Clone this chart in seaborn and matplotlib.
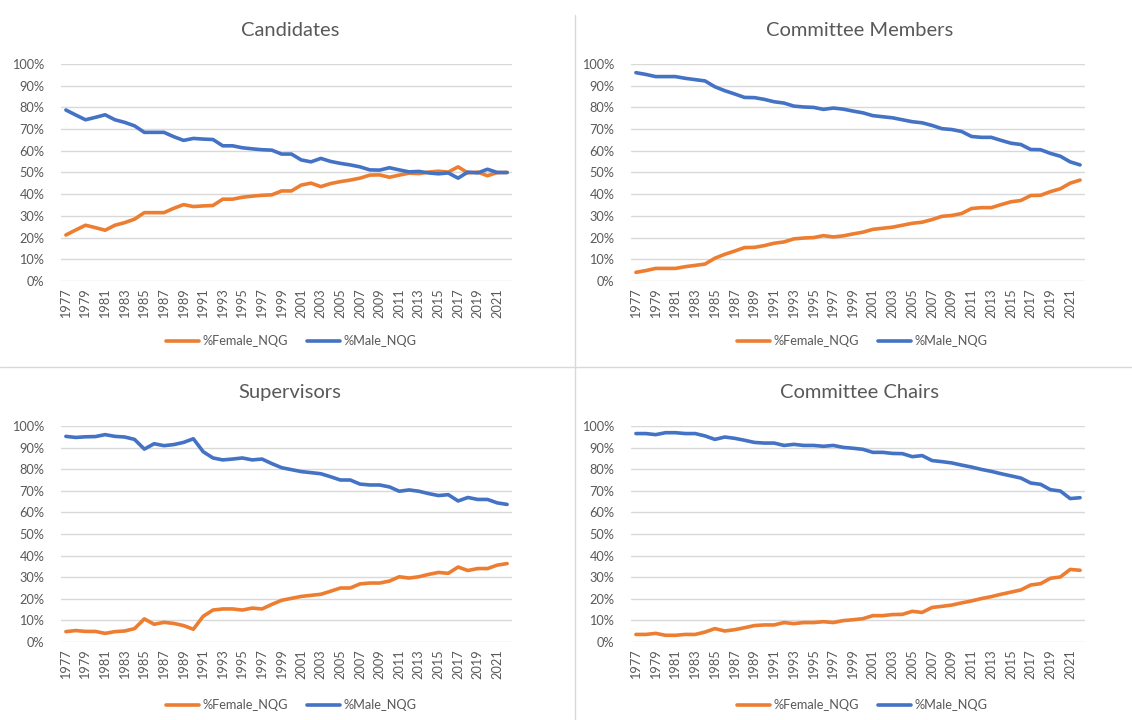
import matplotlib
matplotlib.use("Agg")
import matplotlib.pyplot as plt
from matplotlib.lines import Line2D
from matplotlib.ticker import PercentFormatter
import pandas as pd
import seaborn as sns

# ---------------- data ----------------
years = list(range(1977, 2023))
series_names = ["%Female_NQG", "%Male_NQG"]

candidates_female = [21.2, 23.5, 25.7, 24.6, 23.4, 25.7, 26.9, 28.5, 31.5, 31.5,
                     31.5, 33.5, 35.2, 34.3, 34.6, 34.8, 37.7, 37.7, 38.6, 39.1,
                     39.5, 39.7, 41.5, 41.5, 44.2, 45.1, 43.5, 44.9, 45.8, 46.5,
                     47.4, 48.8, 48.9, 47.8, 48.8, 49.7, 49.5, 50.2, 50.6, 50.2,
                     52.6, 49.8, 50.2, 48.5, 50.0, 50.0]
candidates_male = [78.8, 76.5, 74.3, 75.4, 76.6, 74.3, 73.1, 71.5, 68.5, 68.5,
                   68.5, 66.5, 64.8, 65.7, 65.4, 65.2, 62.3, 62.3, 61.4, 60.9,
                   60.5, 60.3, 58.5, 58.5, 55.8, 54.9, 56.5, 55.1, 54.2, 53.5,
                   52.6, 51.2, 51.1, 52.2, 51.2, 50.3, 50.5, 49.8, 49.4, 49.8,
                   47.4, 50.2, 49.8, 51.5, 50.0, 50.0]

members_female = [4.0, 4.8, 5.8, 5.8, 5.8, 6.6, 7.2, 7.8, 10.5, 12.3,
                  13.8, 15.4, 15.5, 16.3, 17.4, 18.0, 19.4, 19.8, 20.0, 20.9,
                  20.3, 20.8, 21.7, 22.5, 23.8, 24.3, 24.8, 25.7, 26.6, 27.1,
                  28.3, 29.8, 30.2, 31.1, 33.4, 33.8, 33.8, 35.2, 36.5, 37.1,
                  39.4, 39.5, 41.2, 42.5, 45.1, 46.5]
members_male = [96.0, 95.2, 94.2, 94.2, 94.2, 93.4, 92.8, 92.2, 89.5, 87.7,
                86.2, 84.6, 84.5, 83.7, 82.6, 82.0, 80.6, 80.2, 80.0, 79.1,
                79.7, 79.2, 78.3, 77.5, 76.2, 75.7, 75.2, 74.3, 73.4, 72.9,
                71.7, 70.2, 69.8, 68.9, 66.6, 66.2, 66.2, 64.8, 63.5, 62.9,
                60.6, 60.5, 58.8, 57.5, 54.9, 53.5]

supervisors_female = [4.8, 5.3, 4.9, 4.9, 4.0, 4.8, 5.1, 6.2, 10.7, 8.2,
                      9.1, 8.6, 7.6, 5.9, 11.9, 14.8, 15.3, 15.3, 14.8, 15.7,
                      15.3, 17.4, 19.3, 20.2, 21.1, 21.6, 22.1, 23.5, 25.0, 25.0,
                      26.9, 27.3, 27.3, 28.2, 30.2, 29.6, 30.2, 31.3, 32.2, 31.8,
                      34.7, 33.1, 34.0, 34.0, 35.6, 36.3]
supervisors_male = [95.2, 94.7, 95.0, 95.1, 96.0, 95.2, 94.9, 93.8, 89.3, 91.8,
                    90.9, 91.4, 92.4, 94.1, 88.1, 85.2, 84.3, 84.7, 85.2, 84.3,
                    84.7, 82.6, 80.7, 79.8, 78.9, 78.4, 77.9, 76.5, 75.0, 75.0,
                    73.1, 72.7, 72.7, 71.8, 69.8, 70.4, 69.8, 68.7, 67.8, 68.2,
                    65.3, 66.9, 66.0, 66.0, 64.4, 63.7]

chairs_female = [3.5, 3.5, 4.0, 3.1, 3.1, 3.5, 3.5, 4.6, 6.2, 5.1,
                 5.7, 6.6, 7.6, 7.9, 7.9, 9.0, 8.5, 9.0, 9.0, 9.4,
                 9.0, 9.9, 10.3, 10.8, 12.2, 12.2, 12.7, 12.8, 14.2, 13.7,
                 16.0, 16.5, 17.1, 18.1, 19.0, 20.1, 21.0, 22.1, 23.1, 24.1,
                 26.4, 27.0, 29.5, 30.1, 33.6, 33.2]
chairs_male = [96.5, 96.5, 96.0, 96.9, 96.9, 96.5, 96.5, 95.4, 93.8, 94.9,
               94.3, 93.4, 92.4, 92.1, 92.1, 91.0, 91.5, 91.0, 91.0, 90.6,
               91.0, 90.1, 89.7, 89.2, 87.8, 87.8, 87.3, 87.2, 85.8, 86.3,
               84.0, 83.5, 82.9, 81.9, 81.0, 79.9, 79.0, 77.9, 76.9, 75.9,
               73.6, 73.0, 70.5, 69.9, 66.4, 66.8]

titles = ["Candidates", "Committee Members", "Supervisors", "Committee Chairs"]
female_sets = [candidates_female, members_female, supervisors_female, chairs_female]
male_sets = [candidates_male, members_male, supervisors_male, chairs_male]

# ---------------- style ----------------
sns.set_style("white")
plt.rcParams["font.family"] = ["Lato", "DejaVu Sans"]
TEXT = "#595959"
GRID = "#D9D9D9"
palette = {"%Female_NQG": "#ED7D31", "%Male_NQG": "#4472C4"}

W, H = 1132, 720
fig = plt.figure(figsize=(W / 100, H / 100), dpi=100)

# layout in pixels: (left, right, top, bottom), title center x/y, legend center x/y
layouts = [
    ((61, 512, 64, 281), (290, 31), (291, 341)),
    ((631, 1085, 64, 281), (860, 31), (862, 341)),
    ((61, 512, 426, 642), (290, 393), (291, 705)),
    ((631, 1085, 426, 642), (860, 393), (862, 705)),
]

for title, fem, mal, (box, tpos, lpos) in zip(titles, female_sets, male_sets, layouts):
    l, r, t, b = box
    ax = fig.add_axes([l / W, 1 - b / H, (r - l) / W, (b - t) / H])
    df = pd.DataFrame({
        "Year": years + years,
        "Share": fem + mal,
        "Series": [series_names[0]] * len(years) + [series_names[1]] * len(years),
    })
    sns.lineplot(data=df, x="Year", y="Share", hue="Series", palette=palette,
                 linewidth=2.6, ax=ax, legend=False, errorbar=None)
    ax.set_xlim(1976.5, 2022.5)
    ax.set_ylim(0, 100)
    ax.set_yticks(range(0, 101, 10))
    ax.yaxis.set_major_formatter(PercentFormatter(100, decimals=0))
    ax.set_xticks(years[::2])
    ax.set_xticklabels([str(y) for y in years[::2]], rotation=90)
    ax.set_xlabel("")
    ax.set_ylabel("")
    ax.yaxis.grid(True, color=GRID, linewidth=1)
    ax.xaxis.grid(False)
    ax.set_axisbelow(True)
    for s in ax.spines.values():
        s.set_visible(False)
    ax.tick_params(axis="both", length=0, labelsize=9.2, labelcolor=TEXT)
    ax.tick_params(axis="x", pad=5)
    ax.tick_params(axis="y", pad=12)

    fig.text(tpos[0] / W, 1 - tpos[1] / H, title, ha="center", va="center",
             fontsize=14.5, color=TEXT)

    handles = [Line2D([0], [0], color=palette[n], linewidth=2.6) for n in series_names]
    fig.legend(handles, series_names, loc="center",
               bbox_to_anchor=(lpos[0] / W, 1 - lpos[1] / H),
               ncol=2, frameon=False, fontsize=9.2, labelcolor=TEXT,
               handlelength=2.6, handletextpad=0.25, columnspacing=1.5)

# panel dividers
fig.add_artist(Line2D([575 / W, 575 / W], [0, 1 - 15 / H], color=GRID, linewidth=1,
                      transform=fig.transFigure))
fig.add_artist(Line2D([0, 1], [1 - 367 / H, 1 - 367 / H], color=GRID, linewidth=1,
                      transform=fig.transFigure))

fig.savefig("out.png", dpi=100, facecolor="white")
